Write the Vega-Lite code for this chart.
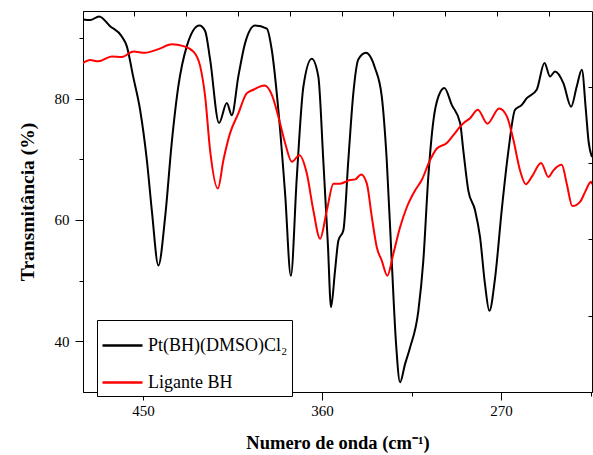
{
  "$schema": "https://vega.github.io/schema/vega-lite/v6.json",
  "width": 509,
  "height": 381,
  "autosize": "none",
  "padding": {"left": 83, "top": 11, "right": 1, "bottom": 63},
  "background": "white",
  "config": {
    "view": {"stroke": "#000000", "strokeWidth": 1},
    "axis": {
      "grid": false,
      "domainColor": "#000000",
      "tickColor": "#000000",
      "labelColor": "#000000",
      "titleColor": "#000000",
      "labelFont": "Liberation Serif",
      "titleFont": "Liberation Serif",
      "labelFontSize": 15,
      "titleFontSize": 18.5,
      "titleFontWeight": "bold",
      "domainWidth": 1,
      "tickWidth": 1
    },
    "legend": {
      "labelFont": "Liberation Serif",
      "labelFontSize": 18,
      "labelColor": "#000000"
    }
  },
  "data": {
    "values": [
      {"s": "Pt(BH)(DMSO)Cl₂", "x": 480.2, "y": 93.1},
      {"s": "Pt(BH)(DMSO)Cl₂", "x": 476.6, "y": 93.0},
      {"s": "Pt(BH)(DMSO)Cl₂", "x": 472.1, "y": 93.6},
      {"s": "Pt(BH)(DMSO)Cl₂", "x": 466.6, "y": 92.0},
      {"s": "Pt(BH)(DMSO)Cl₂", "x": 460.7, "y": 90.3},
      {"s": "Pt(BH)(DMSO)Cl₂", "x": 458.2, "y": 88.7},
      {"s": "Pt(BH)(DMSO)Cl₂", "x": 455.0, "y": 83.7},
      {"s": "Pt(BH)(DMSO)Cl₂", "x": 451.5, "y": 78.2},
      {"s": "Pt(BH)(DMSO)Cl₂", "x": 448.1, "y": 69.9},
      {"s": "Pt(BH)(DMSO)Cl₂", "x": 445.6, "y": 61.6},
      {"s": "Pt(BH)(DMSO)Cl₂", "x": 442.3, "y": 52.5},
      {"s": "Pt(BH)(DMSO)Cl₂", "x": 438.9, "y": 60.5},
      {"s": "Pt(BH)(DMSO)Cl₂", "x": 435.6, "y": 72.7},
      {"s": "Pt(BH)(DMSO)Cl₂", "x": 432.3, "y": 82.0},
      {"s": "Pt(BH)(DMSO)Cl₂", "x": 428.0, "y": 88.7},
      {"s": "Pt(BH)(DMSO)Cl₂", "x": 421.7, "y": 92.1},
      {"s": "Pt(BH)(DMSO)Cl₂", "x": 418.8, "y": 91.2},
      {"s": "Pt(BH)(DMSO)Cl₂", "x": 416.3, "y": 86.5},
      {"s": "Pt(BH)(DMSO)Cl₂", "x": 411.8, "y": 76.0},
      {"s": "Pt(BH)(DMSO)Cl₂", "x": 407.9, "y": 79.3},
      {"s": "Pt(BH)(DMSO)Cl₂", "x": 405.4, "y": 77.3},
      {"s": "Pt(BH)(DMSO)Cl₂", "x": 402.1, "y": 83.7},
      {"s": "Pt(BH)(DMSO)Cl₂", "x": 398.7, "y": 89.2},
      {"s": "Pt(BH)(DMSO)Cl₂", "x": 393.7, "y": 92.1},
      {"s": "Pt(BH)(DMSO)Cl₂", "x": 387.8, "y": 91.6},
      {"s": "Pt(BH)(DMSO)Cl₂", "x": 385.3, "y": 88.1},
      {"s": "Pt(BH)(DMSO)Cl₂", "x": 382.0, "y": 78.2},
      {"s": "Pt(BH)(DMSO)Cl₂", "x": 378.6, "y": 64.4},
      {"s": "Pt(BH)(DMSO)Cl₂", "x": 375.7, "y": 50.8},
      {"s": "Pt(BH)(DMSO)Cl₂", "x": 372.7, "y": 67.1},
      {"s": "Pt(BH)(DMSO)Cl₂", "x": 369.4, "y": 82.0},
      {"s": "Pt(BH)(DMSO)Cl₂", "x": 365.2, "y": 86.6},
      {"s": "Pt(BH)(DMSO)Cl₂", "x": 361.9, "y": 83.7},
      {"s": "Pt(BH)(DMSO)Cl₂", "x": 359.4, "y": 69.9},
      {"s": "Pt(BH)(DMSO)Cl₂", "x": 357.1, "y": 56.1},
      {"s": "Pt(BH)(DMSO)Cl₂", "x": 355.5, "y": 45.6},
      {"s": "Pt(BH)(DMSO)Cl₂", "x": 353.5, "y": 51.6},
      {"s": "Pt(BH)(DMSO)Cl₂", "x": 351.8, "y": 56.6},
      {"s": "Pt(BH)(DMSO)Cl₂", "x": 349.3, "y": 58.3},
      {"s": "Pt(BH)(DMSO)Cl₂", "x": 346.8, "y": 69.9},
      {"s": "Pt(BH)(DMSO)Cl₂", "x": 344.3, "y": 80.9},
      {"s": "Pt(BH)(DMSO)Cl₂", "x": 341.8, "y": 86.5},
      {"s": "Pt(BH)(DMSO)Cl₂", "x": 337.9, "y": 87.6},
      {"s": "Pt(BH)(DMSO)Cl₂", "x": 333.4, "y": 85.1},
      {"s": "Pt(BH)(DMSO)Cl₂", "x": 330.0, "y": 80.4},
      {"s": "Pt(BH)(DMSO)Cl₂", "x": 327.5, "y": 69.9},
      {"s": "Pt(BH)(DMSO)Cl₂", "x": 325.0, "y": 53.3},
      {"s": "Pt(BH)(DMSO)Cl₂", "x": 322.8, "y": 39.5},
      {"s": "Pt(BH)(DMSO)Cl₂", "x": 320.8, "y": 33.2},
      {"s": "Pt(BH)(DMSO)Cl₂", "x": 318.3, "y": 36.2},
      {"s": "Pt(BH)(DMSO)Cl₂", "x": 315.8, "y": 38.9},
      {"s": "Pt(BH)(DMSO)Cl₂", "x": 311.6, "y": 45.0},
      {"s": "Pt(BH)(DMSO)Cl₂", "x": 309.1, "y": 53.3},
      {"s": "Pt(BH)(DMSO)Cl₂", "x": 306.6, "y": 67.1},
      {"s": "Pt(BH)(DMSO)Cl₂", "x": 304.0, "y": 76.5},
      {"s": "Pt(BH)(DMSO)Cl₂", "x": 301.5, "y": 80.4},
      {"s": "Pt(BH)(DMSO)Cl₂", "x": 298.5, "y": 81.8},
      {"s": "Pt(BH)(DMSO)Cl₂", "x": 294.8, "y": 79.0},
      {"s": "Pt(BH)(DMSO)Cl₂", "x": 290.6, "y": 76.0},
      {"s": "Pt(BH)(DMSO)Cl₂", "x": 289.0, "y": 71.5},
      {"s": "Pt(BH)(DMSO)Cl₂", "x": 286.5, "y": 64.9},
      {"s": "Pt(BH)(DMSO)Cl₂", "x": 283.1, "y": 61.6},
      {"s": "Pt(BH)(DMSO)Cl₂", "x": 280.6, "y": 57.2},
      {"s": "Pt(BH)(DMSO)Cl₂", "x": 278.1, "y": 49.4},
      {"s": "Pt(BH)(DMSO)Cl₂", "x": 275.9, "y": 45.0},
      {"s": "Pt(BH)(DMSO)Cl₂", "x": 273.0, "y": 50.5},
      {"s": "Pt(BH)(DMSO)Cl₂", "x": 269.7, "y": 61.6},
      {"s": "Pt(BH)(DMSO)Cl₂", "x": 266.3, "y": 71.5},
      {"s": "Pt(BH)(DMSO)Cl₂", "x": 263.0, "y": 78.2},
      {"s": "Pt(BH)(DMSO)Cl₂", "x": 259.6, "y": 79.0},
      {"s": "Pt(BH)(DMSO)Cl₂", "x": 257.1, "y": 80.1},
      {"s": "Pt(BH)(DMSO)Cl₂", "x": 252.1, "y": 81.5},
      {"s": "Pt(BH)(DMSO)Cl₂", "x": 248.2, "y": 85.9},
      {"s": "Pt(BH)(DMSO)Cl₂", "x": 245.4, "y": 83.7},
      {"s": "Pt(BH)(DMSO)Cl₂", "x": 242.9, "y": 84.5},
      {"s": "Pt(BH)(DMSO)Cl₂", "x": 238.7, "y": 82.6},
      {"s": "Pt(BH)(DMSO)Cl₂", "x": 234.8, "y": 78.7},
      {"s": "Pt(BH)(DMSO)Cl₂", "x": 232.0, "y": 82.0},
      {"s": "Pt(BH)(DMSO)Cl₂", "x": 229.4, "y": 84.8},
      {"s": "Pt(BH)(DMSO)Cl₂", "x": 227.4, "y": 78.2},
      {"s": "Pt(BH)(DMSO)Cl₂", "x": 226.1, "y": 73.2},
      {"s": "Pt(BH)(DMSO)Cl₂", "x": 224.3, "y": 70.4},
      {"s": "Ligante BH", "x": 480.2, "y": 85.9},
      {"s": "Ligante BH", "x": 476.6, "y": 86.4},
      {"s": "Ligante BH", "x": 472.5, "y": 86.2},
      {"s": "Ligante BH", "x": 465.7, "y": 87.0},
      {"s": "Ligante BH", "x": 460.7, "y": 86.9},
      {"s": "Ligante BH", "x": 454.9, "y": 87.8},
      {"s": "Ligante BH", "x": 449.0, "y": 87.6},
      {"s": "Ligante BH", "x": 442.3, "y": 88.2},
      {"s": "Ligante BH", "x": 435.6, "y": 89.0},
      {"s": "Ligante BH", "x": 429.7, "y": 88.7},
      {"s": "Ligante BH", "x": 424.7, "y": 87.8},
      {"s": "Ligante BH", "x": 421.3, "y": 85.4},
      {"s": "Ligante BH", "x": 418.8, "y": 80.4},
      {"s": "Ligante BH", "x": 416.3, "y": 71.5},
      {"s": "Ligante BH", "x": 412.4, "y": 65.2},
      {"s": "Ligante BH", "x": 409.6, "y": 69.9},
      {"s": "Ligante BH", "x": 406.3, "y": 74.3},
      {"s": "Ligante BH", "x": 402.1, "y": 77.6},
      {"s": "Ligante BH", "x": 397.9, "y": 80.9},
      {"s": "Ligante BH", "x": 394.5, "y": 81.5},
      {"s": "Ligante BH", "x": 389.0, "y": 82.2},
      {"s": "Ligante BH", "x": 385.3, "y": 80.7},
      {"s": "Ligante BH", "x": 382.0, "y": 77.1},
      {"s": "Ligante BH", "x": 378.6, "y": 72.7},
      {"s": "Ligante BH", "x": 375.2, "y": 69.6},
      {"s": "Ligante BH", "x": 371.4, "y": 70.7},
      {"s": "Ligante BH", "x": 367.7, "y": 67.7},
      {"s": "Ligante BH", "x": 364.4, "y": 61.6},
      {"s": "Ligante BH", "x": 361.0, "y": 56.9},
      {"s": "Ligante BH", "x": 357.6, "y": 61.6},
      {"s": "Ligante BH", "x": 354.3, "y": 66.0},
      {"s": "Ligante BH", "x": 351.0, "y": 66.0},
      {"s": "Ligante BH", "x": 345.9, "y": 66.6},
      {"s": "Ligante BH", "x": 343.4, "y": 66.7},
      {"s": "Ligante BH", "x": 340.4, "y": 67.5},
      {"s": "Ligante BH", "x": 337.5, "y": 66.0},
      {"s": "Ligante BH", "x": 335.0, "y": 60.5},
      {"s": "Ligante BH", "x": 332.5, "y": 55.5},
      {"s": "Ligante BH", "x": 330.0, "y": 53.3},
      {"s": "Ligante BH", "x": 327.2, "y": 50.8},
      {"s": "Ligante BH", "x": 324.2, "y": 54.4},
      {"s": "Ligante BH", "x": 320.8, "y": 58.8},
      {"s": "Ligante BH", "x": 317.4, "y": 62.1},
      {"s": "Ligante BH", "x": 313.2, "y": 64.9},
      {"s": "Ligante BH", "x": 309.9, "y": 66.6},
      {"s": "Ligante BH", "x": 305.7, "y": 69.9},
      {"s": "Ligante BH", "x": 302.3, "y": 71.8},
      {"s": "Ligante BH", "x": 297.3, "y": 72.7},
      {"s": "Ligante BH", "x": 294.0, "y": 74.0},
      {"s": "Ligante BH", "x": 290.6, "y": 75.4},
      {"s": "Ligante BH", "x": 288.1, "y": 76.2},
      {"s": "Ligante BH", "x": 285.6, "y": 76.8},
      {"s": "Ligante BH", "x": 281.7, "y": 78.2},
      {"s": "Ligante BH", "x": 276.9, "y": 75.9},
      {"s": "Ligante BH", "x": 271.0, "y": 78.4},
      {"s": "Ligante BH", "x": 267.1, "y": 77.1},
      {"s": "Ligante BH", "x": 263.8, "y": 73.2},
      {"s": "Ligante BH", "x": 260.5, "y": 68.2},
      {"s": "Ligante BH", "x": 257.6, "y": 65.9},
      {"s": "Ligante BH", "x": 254.6, "y": 67.1},
      {"s": "Ligante BH", "x": 249.9, "y": 69.4},
      {"s": "Ligante BH", "x": 246.2, "y": 67.1},
      {"s": "Ligante BH", "x": 243.7, "y": 68.2},
      {"s": "Ligante BH", "x": 239.5, "y": 69.1},
      {"s": "Ligante BH", "x": 237.0, "y": 66.0},
      {"s": "Ligante BH", "x": 234.2, "y": 62.3},
      {"s": "Ligante BH", "x": 230.3, "y": 63.0},
      {"s": "Ligante BH", "x": 227.8, "y": 64.6},
      {"s": "Ligante BH", "x": 224.8, "y": 66.3},
      {"s": "Ligante BH", "x": 224.3, "y": 65.9}
    ]
  },
  "resolve": {"axis": {"x": "independent", "y": "independent"}},
  "layer": [
    {
      "mark": {"type": "point", "opacity": 0},
      "encoding": {
        "x": {"field": "x", "type": "quantitative",
              "axis": {"orient": "bottom", "values": [405, 315, 225], "labels": false, "tickSize": 4, "domain": false, "title": null}},
        "y": {"field": "y", "type": "quantitative",
              "axis": {"orient": "left", "values": [90, 70, 50], "labels": false, "tickSize": 4, "domain": false, "title": null}}
      }
    },
    {
      "mark": {"type": "point", "opacity": 0},
      "encoding": {
        "x": {"field": "x", "type": "quantitative",
              "axis": {"orient": "top", "values": [454.4, 428.4, 402.3, 376.3, 350.2, 324.2, 298.2, 272.2, 246.1], "labels": false, "tickSize": -5, "domain": false, "title": null}},
        "y": {"field": "y", "type": "quantitative",
              "axis": {"orient": "right", "values": [82.0, 69.4, 56.8, 44.2], "labels": false, "tickSize": -4, "domain": false, "title": null}}
      }
    },
    {
      "mark": {"type": "line", "strokeWidth": 2, "interpolate": "monotone", "clip": true},
      "encoding": {
        "x": {"field": "x", "type": "quantitative",
              "scale": {"domain": [224.3, 480.2], "reverse": true, "zero": false, "nice": false},
              "axis": {"orient": "bottom", "values": [450, 360, 270], "tickSize": 8, "labelPadding": 3,
                       "title": "Numero de onda (cm⁻¹)", "titleY": 50, "titleBaseline": "middle"}},
        "y": {"field": "y", "type": "quantitative",
              "scale": {"domain": [31.6, 94.5], "zero": false, "nice": false},
              "axis": {"orient": "left", "values": [80, 60, 40], "tickSize": 8, "labelPadding": 6,
                       "title": "Transmitância (%)", "titleX": -56, "titleBaseline": "middle", "titleFontSize": 19.5}},
        "color": {"field": "s", "type": "nominal",
                  "scale": {"domain": ["Pt(BH)(DMSO)Cl₂", "Ligante BH"], "range": ["#000000", "#ff0000"]},
                  "legend": {"title": null, "orient": "none", "legendX": 14, "legendY": 309,
                             "strokeColor": "#000000", "padding": 4, "rowPadding": 6,
                             "symbolType": "stroke", "symbolSize": 1600, "symbolStrokeWidth": 2.5,
                             "labelOffset": 4, "labelLimit": 0, "fillColor": "white"}}
      }
    }
  ]
}
